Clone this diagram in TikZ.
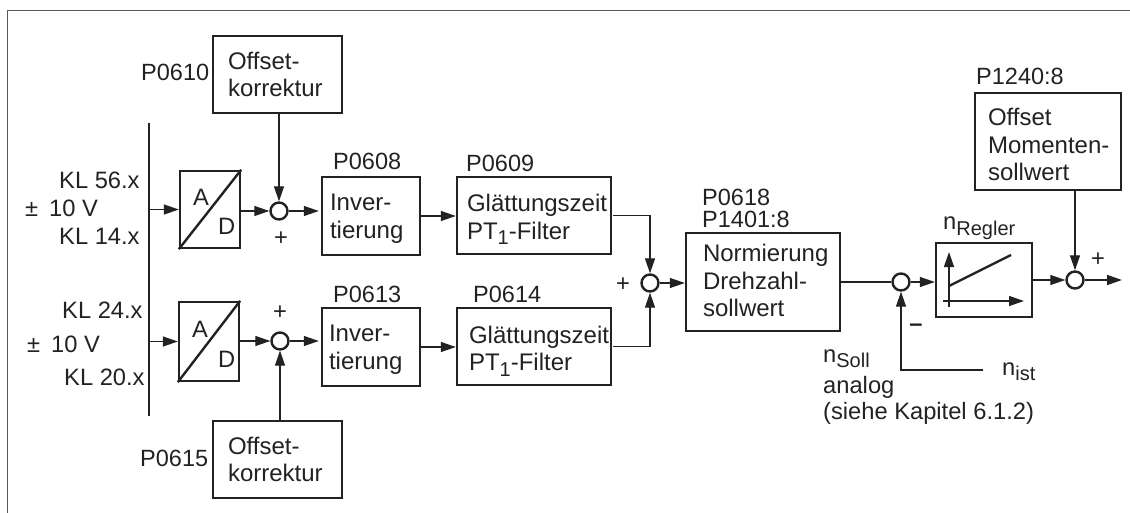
\documentclass[tikz,border=0pt]{standalone}
\usepackage{fontspec}
\setmainfont{Liberation Sans}
\usetikzlibrary{arrows.meta,calc}
\definecolor{ink}{HTML}{222222}
\newcommand\sbs[1]{\raisebox{-5.5pt}{\fontsize{20}{20}\selectfont #1}}
\newcommand\T[1]{\rule{0pt}{#1pt}}
\newcommand\B[1]{\rule[-#1pt]{0pt}{#1pt}}
% name, x1, y1, x2, y2, left pad, text
\newcommand\blk[7]{%
  \pgfmathsetmacro\bw{#4-#2}\pgfmathsetmacro\bh{#5-#3}%
  \pgfmathsetmacro\bx{(#2+#4)/2}\pgfmathsetmacro\by{(#3+#5)/2}%
  \pgfmathsetmacro\tw{\bw-2*#6}%
  \node[blockbox,minimum width=\bw pt,minimum height=\bh pt,text width=\tw pt,inner xsep=#6pt] (#1) at (\bx,\by) {#7};}
\tikzset{
  x=1pt,y=-1pt,
  every node/.style={text=ink,font=\fontsize{23.7}{27.5}\selectfont},
  blockbox/.style={draw=ink,line width=2.4pt,align=left,inner ysep=0pt,fill=white,font=\fontsize{24}{27.5}\selectfont},
  plainbox/.style={draw=ink,line width=2.4pt,inner sep=0pt},
  sumpt/.style={circle,draw=ink,line width=2.4pt,minimum size=17pt,inner sep=0pt,fill=white},
  lab/.style={anchor=base west,inner sep=0pt},
  parlab/.style={anchor=base west,inner sep=0pt,font=\fontsize{23.5}{27.5}\selectfont},
  signlab/.style={anchor=center,inner sep=0pt},
  conn/.style={draw=ink,line width=1.3pt,-{Triangle[length=15pt,width=10pt]}},
  plainline/.style={draw=ink,line width=1.3pt},
  busbar/.style={fill=ink,inner sep=0pt,minimum width=2.8pt,minimum height=293pt},
}
\begin{document}
\begin{tikzpicture}
\useasboundingbox (0,0) rectangle (1130,513);
\draw[color=black!65,line width=1.6pt] (7.5,513) -- (7.5,10.5) -- (1130,10.5);

% blocks
\blk{off1}{213}{36}{342}{113}{15}{Offset-\\korrektur}
\blk{off2}{213}{421}{342}{498}{15}{\T{17}Offset-\\korrektur}
\blk{inv1}{322}{177}{420}{255}{8}{\T{22}Inver-\\tierung}
\blk{inv2}{322}{308}{420}{386}{7}{\T{22}Inver-\\tierung}
\blk{gl1}{457}{177}{611}{254}{10}{\T{26}Glättungszeit\\PT\sbs{1}-Filter}
\blk{gl2}{457}{308}{611}{385}{12}{\T{26}Glättungszeit\\PT\sbs{1}-Filter}
\blk{norm}{686}{233}{840}{331}{17}{Normierung\\Drehzahl-\\sollwert\B{3}}
\blk{off3}{975}{93}{1121}{190}{13}{\T{24}Offset\\\mbox{Momenten-}\\sollwert}

% A/D converters
\node[plainbox,minimum width=60pt,minimum height=77pt] (ad1) at (210,209.5) {};
\node[plainbox,minimum width=60pt,minimum height=79pt] (ad2) at (209,341.5) {};
\draw[ink,line width=2.4pt] (ad1.south west) -- (ad1.north east);
\draw[ink,line width=2.4pt] (ad2.south west) -- (ad2.north east);
\node[lab] (a1) at (193,206) {A};
\node[lab] (d1) at (218,235) {D};
\node[lab] (a2) at (192,337) {A};
\node[lab] (d2) at (218,367) {D};

% controller
\node[plainbox,minimum width=96pt,minimum height=74pt] (reg) at (984,280) {};
\coordinate (ybot) at (949,307);
\coordinate (ytop) at (949,252);
\coordinate (xl) at (943,301);
\coordinate (xr) at (1024,301);
\coordinate (cs) at (949,286);
\coordinate (ce) at (1011,255);
\draw[conn] (ybot) -- (ytop);
\draw[conn] (xl) -- (xr);
\draw[ink,line width=2.4pt] (cs) -- (ce);

% bus bar
\node[busbar] (bar) at (149,269.5) {};

% summing points
\node[sumpt] (c1) at (279,211) {};
\node[sumpt] (c2) at (280,341) {};
\node[sumpt] (sum) at (650,283) {};
\node[sumpt] (c3) at (901,282) {};
\node[sumpt] (c4) at (1075,280) {};

% free ends
\coordinate (out) at (1122,280);
\coordinate (nist) at (983,370);
\coordinate (nc) at (901,370);

% connectors
\draw[conn] (bar.center |- ad1) -- (ad1.west);
\draw[conn] (bar.center |- ad2) -- (ad2.west);
\draw[conn] (ad1.east |- c1) -- (c1);
\draw[conn] (ad2.east |- c2) -- (c2);
\draw[conn] (c1 |- off1.south) -- (c1);
\draw[conn] (c2 |- off2.north) -- (c2);
\draw[conn] (c1) -- ($(c1 -| inv1.west)+(-2,0)$);
\draw[conn] (c2) -- ($(c2 -| inv2.west)+(-2,0)$);
\draw[conn] (inv1.east) -- (gl1.west |- inv1.east);
\draw[conn] (inv2.east) -- (gl2.west |- inv2.east);
\draw[conn] ($(gl1.east)+(1,0)$) -| (sum);
\draw[conn] ($(gl2.east)+(1,0)$) -| (sum);
\draw[conn] (sum) -- (sum -| norm.west);
\draw[plainline] (norm.east |- c3) -- (c3);
\draw[conn] (c3) -- (c3 -| reg.west);
\draw[conn] (nist) -- (nc) -- (c3);
\draw[conn] (reg.east |- c4) -- (c4);
\draw[conn] (c4 |- off3.south) -- (c4);
\draw[conn] (c4) -- (out);

% labels
\node[parlab] (p0610) at (141,81) {P0610};
\node[parlab] (p0615) at (140,466) {P0615};
\node[parlab] (p0608) at (333,170) {P0608};
\node[parlab] (p0609) at (466,172) {P0609};
\node[parlab] (p0613) at (333,302) {P0613};
\node[parlab] (p0614) at (473,302) {P0614};
\node[parlab] (p0618) at (702,206) {P0618};
\node[parlab] (p1401) at (702,228) {P1401:8};
\node[parlab] (p1240) at (976,85) {P1240:8};
\node[lab] (kl56) at (59,189) {KL 56.x};
\node[lab] (v1) at (25,217) {±\hspace{11pt}10 V};
\node[lab] (kl14) at (59,245) {KL 14.x};
\node[lab] (kl24) at (62,318) {KL 24.x};
\node[lab] (v2) at (27,352) {±\hspace{11pt}10 V};
\node[lab] (kl20) at (64,385) {KL 20.x};
\node[signlab] (pl1) at (281,239) {+};
\node[signlab] (pl2) at (280,313) {+};
\node[signlab] (pl3) at (623,285) {+};
\node[signlab] (pl4) at (1098,260) {+};
\node[signlab] (mi) at (916,328) {\textbf{–}};
\node[lab] (nreg) at (943,230) {n\sbs{Regler}};
\node[lab] (nistl) at (1002,375) {n\sbs{ist}};
\node[lab] (nsoll) at (823,362) {n\sbs{Soll}};
\node[lab] (ana) at (823,393) {analog};
\node[lab] (sk) at (823,419) {(siehe Kapitel 6.1.2)};
\end{tikzpicture}
\end{document}
